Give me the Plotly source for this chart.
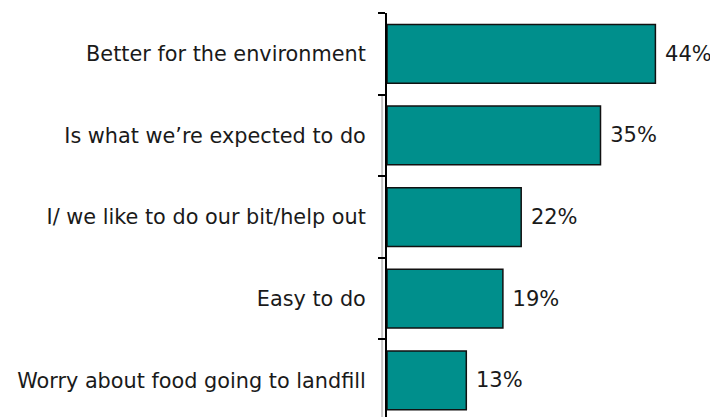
import plotly.graph_objects as go

categories = [
    "Better for the environment",
    "Is what we\u2019re expected to do",
    "I/ we like to do our bit/help out",
    "Easy to do",
    "Worry about food going to landfill",
]
values = [44, 35, 22, 19, 13]
value_labels = ["44%", "35%", "22%", "19%", "13%"]

FONT = "DejaVu Sans"

fig = go.Figure()
fig.add_trace(go.Bar(
    x=values,
    y=categories,
    orientation="h",
    marker=dict(color="#008F8C", line=dict(color="#111111", width=1.5)),
    text=value_labels,
    texttemplate=" %{text}",
    textposition="outside",
    textfont=dict(family=FONT, size=21, color="#1a1a1a"),
    cliponaxis=False,
))

fig.add_shape(type="line", xref="paper", yref="y", x0=-0.016, x1=-0.016, y0=0.5, y1=4.45,
              line=dict(color="#c8c8c8", width=2), layer="below")

fig.update_layout(
    width=710, height=409,
    margin=dict(l=379, r=26, t=5, b=0, autoexpand=False),
    paper_bgcolor="white", plot_bgcolor="white",
    bargap=0.28,
    showlegend=False,
    font=dict(family=FONT, size=20.8, color="#1a1a1a"),
    xaxis=dict(range=[0, 50], visible=False, showgrid=False, zeroline=False),
    yaxis=dict(
        type="category",
        range=[4.45, -0.5],
        showline=True, linecolor="black", linewidth=2,
        ticks="outside", tickson="boundaries", ticklen=7, tickcolor="black", tickwidth=2,
        ticklabelstandoff=15,
        showgrid=False, zeroline=False,
        automargin=False,
        tickfont=dict(family=FONT, size=20.8, color="#1a1a1a"),
    ),
)

fig.write_html("out.html")
